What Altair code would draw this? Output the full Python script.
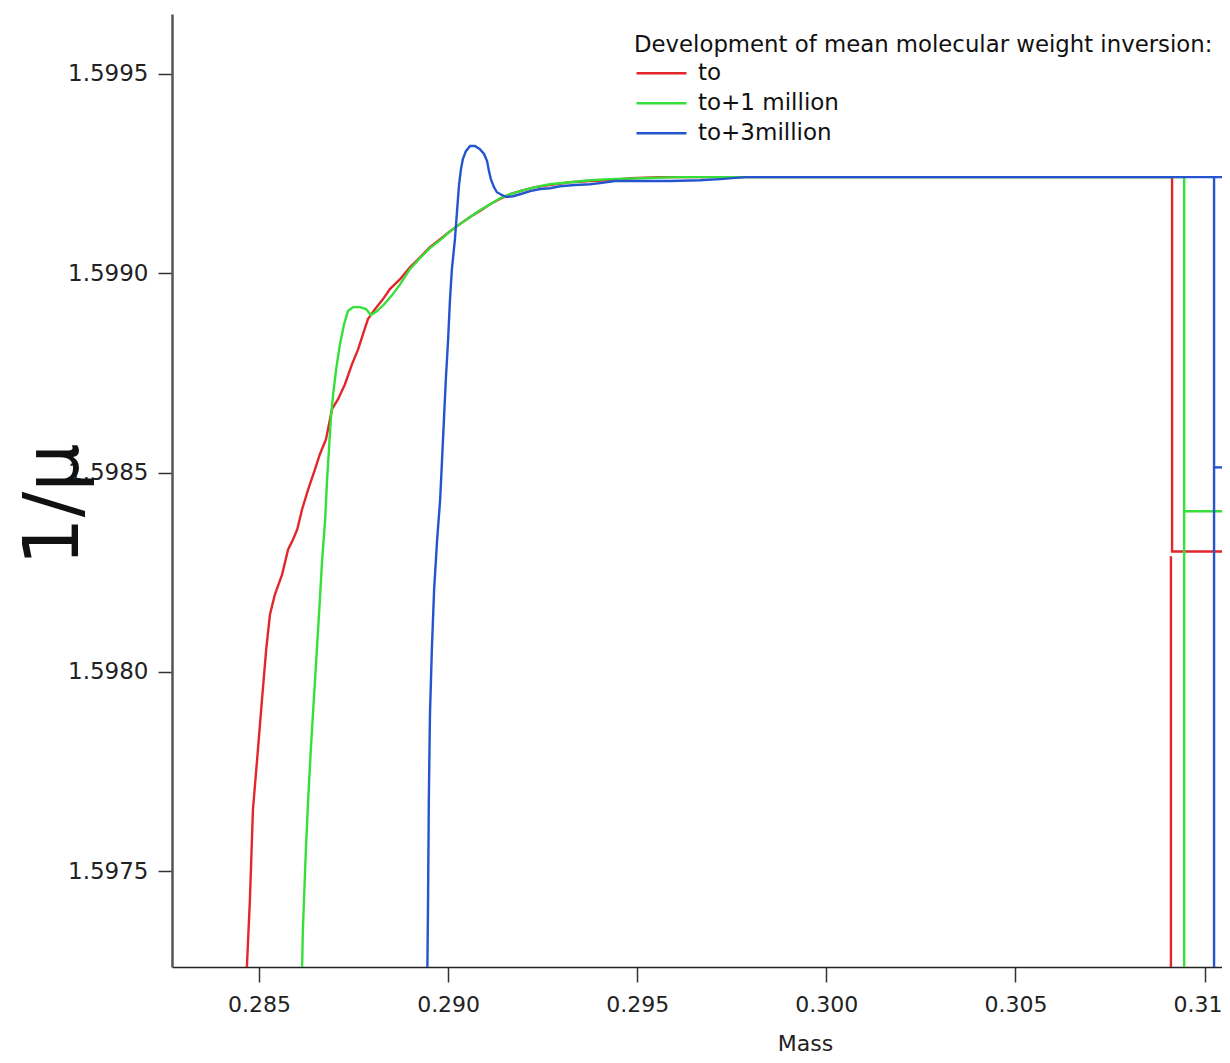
import altair as alt
import pandas as pd

series_names = ["to", "to+1 million", "to+3million"]
series_colors = ["#e3262b", "#36e03a", "#2455cf"]

x_ticks = [0.285, 0.290, 0.295, 0.300, 0.305, 0.310]
y_ticks = [1.5975, 1.5980, 1.5985, 1.5990, 1.5995]
x_domain = [0.28270, 0.31046]
y_domain = [1.59726, 1.59965]

# "to" (red)
red_mass = [0.28466, 0.28468, 0.28476, 0.28484, 0.28495, 0.28508, 0.28519, 0.28529,
            0.28542, 0.28561, 0.28577, 0.28590, 0.28601, 0.28614, 0.28630, 0.28648,
            0.28661, 0.28677, 0.28693, 0.28709, 0.28727, 0.28746, 0.28762, 0.28775,
            0.28788, 0.28807, 0.28828, 0.28846, 0.28873, 0.28899, 0.28926, 0.28952,
            0.28979, 0.29005, 0.29031, 0.29058, 0.29084, 0.29111, 0.29137, 0.29164,
            0.29190, 0.29230, 0.29269, 0.29322, 0.29375, 0.29428, 0.29481, 0.29560,
            0.29666, 0.29772, 0.30914, 0.30914, 0.31070]
red_val = [1.597150, 1.597261, 1.597429, 1.597655, 1.597780, 1.597931, 1.598056, 1.598144,
           1.598194, 1.598244, 1.598307, 1.598332, 1.598357, 1.598408, 1.598458, 1.598508,
           1.598546, 1.598583, 1.598659, 1.598684, 1.598721, 1.598772, 1.598809, 1.598847,
           1.598885, 1.598910, 1.598935, 1.598960, 1.598985, 1.599015, 1.599040, 1.599065,
           1.599085, 1.599105, 1.599123, 1.599141, 1.599156, 1.599173, 1.599186, 1.599198,
           1.599206, 1.599216, 1.599221, 1.599228, 1.599231, 1.599233, 1.599238, 1.599241,
           1.599241, 1.599241, 1.599241, 1.598302, 1.598302]
red_tail_mass = [0.30911, 0.30911]
red_tail_val = [1.598290, 1.597150]

# "to+1 million" (green)
green_mass = [0.28612, 0.28614, 0.28616, 0.28619, 0.28624, 0.28630, 0.28637, 0.28645,
              0.28653, 0.28661, 0.28667, 0.28675, 0.28680, 0.28685, 0.28690, 0.28696,
              0.28704, 0.28714, 0.28725, 0.28735, 0.28749, 0.28767, 0.28783, 0.28796,
              0.28812, 0.28831, 0.28852, 0.28873, 0.28899, 0.28926, 0.28952, 0.28979,
              0.29005, 0.29031, 0.29058, 0.29084, 0.29111, 0.29137, 0.29164, 0.29190,
              0.29230, 0.29269, 0.29322, 0.29375, 0.29428, 0.29507, 0.29613, 0.29825,
              0.30946, 0.30946]
green_val = [1.597150, 1.597261, 1.597353, 1.597429, 1.597554, 1.597680, 1.597805, 1.597931,
             1.598056, 1.598182, 1.598282, 1.598383, 1.598483, 1.598558, 1.598634, 1.598696,
             1.598759, 1.598822, 1.598872, 1.598905, 1.598915, 1.598915, 1.598910, 1.598895,
             1.598905, 1.598922, 1.598945, 1.598972, 1.599010, 1.599038, 1.599063, 1.599083,
             1.599105, 1.599123, 1.599141, 1.599158, 1.599173, 1.599188, 1.599198, 1.599206,
             1.599216, 1.599223, 1.599228, 1.599233, 1.599236, 1.599238, 1.599241, 1.599241,
             1.599241, 1.597150]
green_step_mass = [0.30946, 0.31070]
green_step_val = [1.598403, 1.598403]

# "to+3million" (blue)
blue_mass = [0.28944, 0.28947, 0.28949, 0.28952, 0.28957, 0.28963, 0.28971, 0.28979,
             0.28984, 0.28989, 0.28994, 0.29000, 0.29005, 0.29010, 0.29018, 0.29024,
             0.29029, 0.29034, 0.29039, 0.29047, 0.29058, 0.29071, 0.29084, 0.29095,
             0.29103, 0.29108, 0.29113, 0.29121, 0.29129, 0.29142, 0.29156, 0.29172,
             0.29190, 0.29217, 0.29243, 0.29269, 0.29296, 0.29336, 0.29375, 0.29402,
             0.29441, 0.29507, 0.29587, 0.29666, 0.29719, 0.29785, 0.31025, 0.31070]
blue_val = [1.597150, 1.597429, 1.597680, 1.597893, 1.598056, 1.598207, 1.598332, 1.598433,
            1.598533, 1.598634, 1.598734, 1.598834, 1.598935, 1.599010, 1.599085, 1.599161,
            1.599223, 1.599261, 1.599286, 1.599306, 1.599319, 1.599319, 1.599311, 1.599299,
            1.599281, 1.599256, 1.599236, 1.599216, 1.599203, 1.599196, 1.599191, 1.599193,
            1.599198, 1.599206, 1.599211, 1.599213, 1.599218, 1.599221, 1.599223, 1.599226,
            1.599231, 1.599231, 1.599231, 1.599233, 1.599236, 1.599241, 1.599241, 1.599241]
blue_drop_mass = [0.31025, 0.31025]
blue_drop_val = [1.599241, 1.597150]
blue_step_mass = [0.31025, 0.31070]
blue_step_val = [1.598513, 1.598513]

segments = [
    ("to", "to-a", red_mass, red_val),
    ("to", "to-b", red_tail_mass, red_tail_val),
    ("to+1 million", "g-a", green_mass, green_val),
    ("to+1 million", "g-b", green_step_mass, green_step_val),
    ("to+3million", "b-a", blue_mass, blue_val),
    ("to+3million", "b-b", blue_drop_mass, blue_drop_val),
    ("to+3million", "b-c", blue_step_mass, blue_step_val),
]
rows = []
for s, seg, ms, vs in segments:
    for i, (m, v) in enumerate(zip(ms, vs)):
        rows.append({"series": s, "seg": seg, "order": i, "mass": m, "inv": v})
df = pd.DataFrame(rows)

FONT = "DejaVu Sans"

x_axis = alt.Axis(
    values=x_ticks,
    labelExpr="format(datum.value, '.3f') == '0.310' ? '0.31' : format(datum.value, '.3f')",
    labelOffset={"condition": {"test": "datum.value > 0.3075", "value": -7}, "value": 0},
    grid=False, tickSize=15, tickColor="#333", tickWidth=1.5,
    domainColor="#222", domainWidth=1.5,
    labelFont=FONT, labelFontSize=22, labelColor="#222", labelPadding=12,
    title="Mass", titleFont=FONT, titleFontSize=22, titleFontWeight="normal",
    titleColor="#222", titleX=633, titleY=76, titleBaseline="middle", titleAlign="center",
)
y_axis = alt.Axis(
    values=y_ticks, format=".4f",
    grid=False, tickSize=14, tickColor="#333", tickWidth=1.5,
    domainColor="#555", domainWidth=2.5,
    labelFont=FONT, labelFontSize=23, labelColor="#222", labelPadding=10,
    title="1/μ", titleFont=FONT, titleFontSize=76, titleFontWeight="normal",
    titleColor="#111", titleAngle=270, titleX=-118, titleY=490,
    titleAlign="center", titleBaseline="middle",
)

legend = alt.Legend(
    title="Development of mean molecular weight inversion:",
    orient="none", legendX=462, legendY=20, padding=0,
    symbolType="M-1.8,0H8.2", symbolSize=100, symbolStrokeWidth=2.5,
    labelOffset=41, rowPadding=6, titlePadding=5,
    labelFont=FONT, labelFontSize=23, labelColor="#111", labelLimit=600,
    titleFont=FONT, titleFontSize=22.8, titleFontWeight="normal", titleColor="#111",
    titleLimit=1000,
)

chart = alt.Chart(df).mark_line(clip=True, strokeWidth=2.4).encode(
    x=alt.X("mass:Q", scale=alt.Scale(domain=x_domain, nice=False, zero=False), axis=x_axis),
    y=alt.Y("inv:Q", scale=alt.Scale(domain=y_domain, nice=False, zero=False), axis=y_axis),
    color=alt.Color("series:N", scale=alt.Scale(domain=series_names, range=series_colors),
                    legend=legend),
    detail="seg:N",
    order="order:Q",
).properties(
    width=1050, height=953,
    autosize=alt.AutoSizeParams(type="none"),
    padding={"left": 164, "top": 6, "right": 0, "bottom": 88},
    background="white",
).configure_view(stroke=None)

chart.save("out.html", embed_options={"renderer": "svg", "actions": False})
